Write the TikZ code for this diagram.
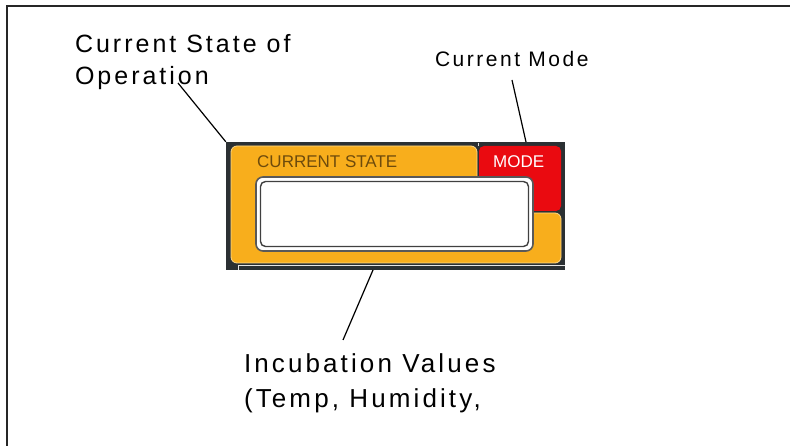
\documentclass[tikz,border=0pt]{standalone}
\usepackage{fontspec}
\setmainfont{Liberation Sans}
\newfontfamily\spacedfont[LetterSpace=12]{Liberation Sans}
\usetikzlibrary{positioning}
\definecolor{panelgray}{HTML}{2B3033}
\definecolor{stateorange}{HTML}{F8AE1C}
\definecolor{stateedge}{HTML}{FFD98A}
\definecolor{modered}{HTML}{EA0A10}
\definecolor{statebrown}{HTML}{6E4B0C}

\begin{document}
\begin{tikzpicture}[x=1pt,y=-1pt,
                    leader/.style={draw,black,line width=1.2pt},
                    callout/.style={inner sep=0pt,outer sep=0pt,align=left,anchor=base west},
                    paneltext/.style={inner sep=0pt,anchor=base west,font=\fontsize{17}{20}\selectfont}]
    \useasboundingbox (0,0) rectangle (790,446);
    % frame of the page
    \draw[line width=2.2pt,black!85] (7,446) -- (7,6) -- (790,6);

    % the display panel
    \node (panel) [fill=panelgray,minimum width=339pt,minimum height=128pt,inner sep=0pt] at (395.5,206) {};
    \filldraw[fill=stateorange,draw=stateedge,line width=0.8pt,rounded corners=6pt]
        (231,146) -- (477,146) -- (477,213) -- (561,213) -- (561,263) -- (231,263) -- cycle;
    \fill[modered,rounded corners=5pt] (479,146) rectangle (561,211);
    \draw[white!75!gray,line width=0.6pt] (478,143) -- (478,146);
    \draw[white!80!gray,line width=0.6pt] (238,270) -- (238,265) -- (565,265);
    \filldraw[fill=white,draw=black!65,line width=1.6pt,rounded corners=7pt] (256,177) rectangle (533,251);
    \draw[black!75,line width=1.4pt,rounded corners=5pt] (260.5,181.5) rectangle (528.5,246.5);
    \node (statehead) [paneltext,text=statebrown] at (257,168) {CURRENT STATE};
    \node (modehead) [paneltext,text=white] at (493,168) {MODE};

    % labels (base = last line)
    \node (opstate) [callout,font=\spacedfont\fontsize{25}{32}\selectfont] at (75,85) {Current State of\\Operation};
    \node (curmode) [callout,font=\spacedfont\fontsize{21}{25}\selectfont] at (435,67) {Current Mode};
    \node (incvalues) [callout,font=\spacedfont\fontsize{26}{35}\selectfont] at (244,407) {Incubation Values\\(Temp, Humidity,};

    % leaders
    \coordinate (opfoot) at (178,83);
    \coordinate (modefoot) at (512,80);
    \coordinate (modetop) at (526,142);
    \coordinate (valtop) at (373,270);
    \coordinate (valfoot) at (343,340);
    \draw[leader] (opfoot) -- (panel.north west);
    \draw[leader] (modefoot) -- (modetop);
    \draw[leader] (valtop) -- (valfoot);
\end{tikzpicture}
\end{document}
